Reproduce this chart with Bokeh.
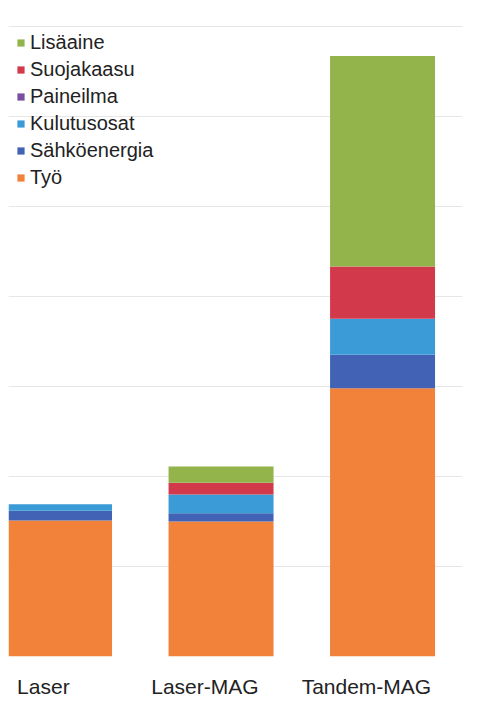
from bokeh.plotting import figure
from bokeh.models import ColumnDataSource, Legend, LegendItem, FixedTicker, Range1d, CustomJSTickFormatter
from bokeh.embed import file_html
from bokeh.resources import INLINE

categories = ["Laser", "Laser-MAG", "Tandem-MAG"]
series = ["Työ", "Sähköenergia", "Kulutusosat", "Paineilma", "Suojakaasu", "Lisäaine"]
tyo = [1.51, 1.50, 2.98]
sahkoenergia = [0.11, 0.09, 0.37]
kulutusosat = [0.07, 0.21, 0.40]
paineilma = [0.0, 0.0, 0.0]
suojakaasu = [0.0, 0.13, 0.58]
lisaaine = [0.0, 0.18, 2.34]
colors = ["#f2813a", "#4262b6", "#3b9bd6", "#7a4fa0", "#d23a4c", "#93b44b"]

x = list(range(len(categories)))
keys = ["s0", "s1", "s2", "s3", "s4", "s5"]
data = dict(x=x)
for k, vals in zip(keys, [tyo, sahkoenergia, kulutusosat, paineilma, suojakaasu, lisaaine]):
    data[k] = vals
source = ColumnDataSource(data)

p = figure(width=470, height=700, output_backend="svg", toolbar_location=None,
           x_range=Range1d(-0.316, 2.495), y_range=Range1d(0, 7.03),
           min_border_left=8, min_border_right=8, min_border_top=23, min_border_bottom=40)
p.outline_line_color = None
p.background_fill_color = "white"
p.border_fill_color = "white"

renderers = p.vbar_stack(keys, x="x", width=0.65, color=colors, source=source, line_width=0)

label_shift = 0.1
p.xaxis.ticker = FixedTicker(ticks=[i - label_shift for i in x])
p.xaxis.formatter = CustomJSTickFormatter(args=dict(cats=categories),
                                          code="return cats[Math.round(tick)];")
p.xaxis.major_label_text_font = "Liberation Sans"
p.xaxis.major_label_text_font_size = "21px"
p.xaxis.major_label_text_color = "#222222"
p.xaxis.major_label_standoff = 12
p.xaxis.axis_line_color = None
p.xaxis.major_tick_line_color = None
p.xaxis.minor_tick_line_color = None
p.yaxis.visible = False
p.xgrid.grid_line_color = None
p.ygrid.ticker = FixedTicker(ticks=[0, 1, 2, 3, 4, 5, 6, 7])
p.ygrid.grid_line_color = "#e6e6e6"
p.ygrid.grid_line_width = 1

items = [LegendItem(label=s, renderers=[r]) for s, r in zip(series, renderers)]
items.reverse()
legend = Legend(items=items, location="top_left", margin=10, padding=10,
                glyph_width=9, glyph_height=9, label_height=23, spacing=4,
                label_standoff=5, label_text_font="Liberation Sans",
                label_text_font_size="20px", label_text_color="#222222",
                background_fill_alpha=0, border_line_color=None)
legend.margin = 8
p.add_layout(legend)

open("out.html", "w").write(file_html(p, INLINE))
